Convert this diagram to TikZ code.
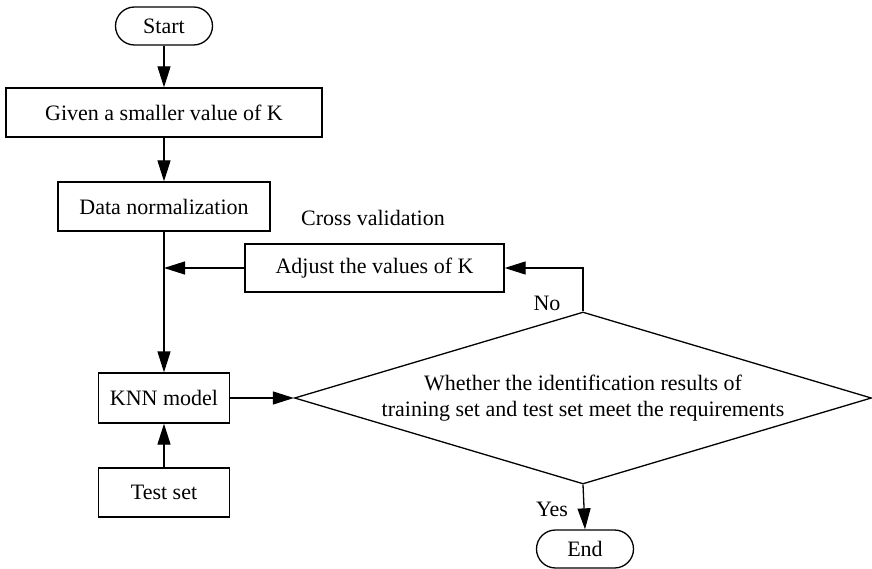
\documentclass[tikz,border=0pt]{standalone}
\usepackage{fontspec}
\setmainfont{Liberation Serif}
\usetikzlibrary{arrows.meta,shapes.geometric}
\begin{document}
\begin{tikzpicture}[x=1pt,y=-1pt,
  every node/.style={font=\fontsize{22}{26}\selectfont},
  procbox/.style={draw,line width=1.3pt,inner sep=0pt,minimum width=#1},
  term/.style={draw,line width=1.3pt,rounded corners=19pt,inner sep=0pt,minimum width=97pt,minimum height=38pt},
  conn/.style={line width=1.3pt,-{Triangle[length=21pt,width=13pt]}},
  lbl/.style={inner sep=0pt}
]
\useasboundingbox (0,0) rectangle (872,569);
\node[term] (start) at (164,26) {Start};
\node[procbox=316pt,minimum height=49pt] (given) at (164,112.5) {Given a smaller value of K};
\node[procbox=212pt,minimum height=49pt] (data) at (164,206.5) {Data normalization};
\node[procbox=259pt,minimum height=48pt] (adjust) at (374.5,268) {Adjust the values of K};
\node[procbox=131pt,minimum height=50pt] (knn) at (164,398) {KNN model};
\node[procbox=131pt,minimum height=49pt] (test) at (164,492.5) {Test set};
\node[draw,line width=1.3pt,shape=diamond,inner sep=0pt,minimum width=577pt,minimum height=172pt] (dia) at (583,398) {};
\node[lbl,align=center] (diatext) at (583,398) {Whether the identification results of\\training set and test set meet the requirements};
\node[term] (end) at (585,549) {End};
\node[lbl] (cv) at (373,218) {Cross validation};
\node[lbl] (no) at (547,303) {No};
\node[lbl] (yes) at (552,509) {Yes};
\coordinate (join) at (data.south |- adjust.west);
\draw[conn] (start) -- (given);
\draw[conn] (given) -- (data);
\draw[conn] (data) -- (knn);
\draw[conn] (adjust.west) -- (join);
\draw[conn] (knn.east) -- (dia.west);
\draw[conn] (test) -- (knn);
\draw[conn] (dia.north) |- (adjust.east);
\draw[conn] (dia.south) -- (end.north);
\end{tikzpicture}
\end{document}
